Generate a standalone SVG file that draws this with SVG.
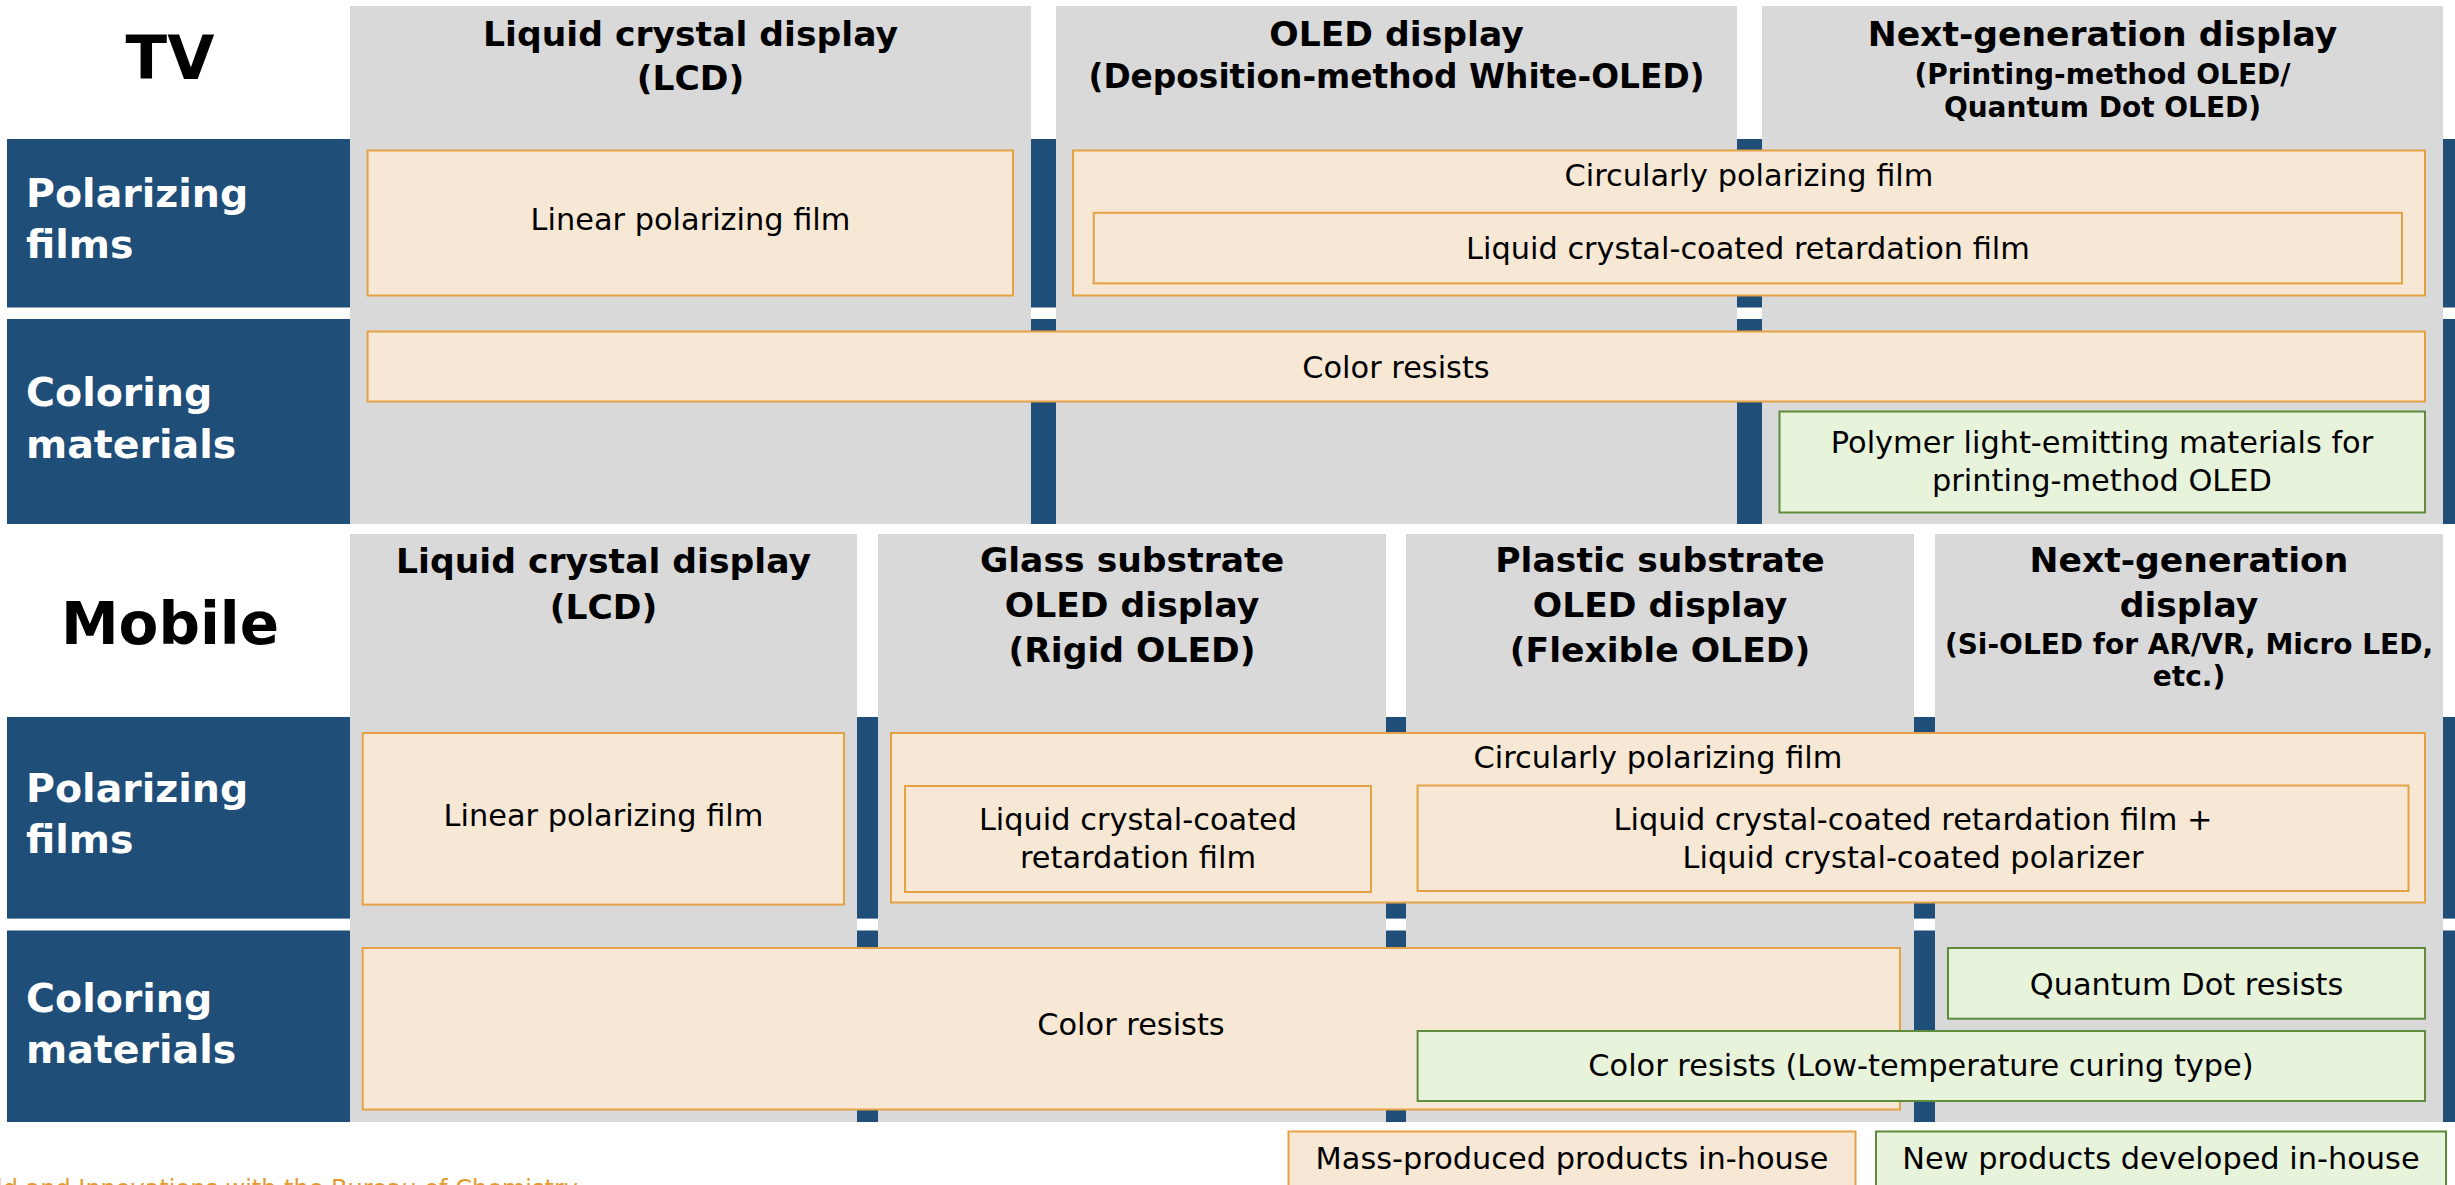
<svg xmlns="http://www.w3.org/2000/svg" width="2455" height="1185" viewBox="0 0 2455 1185">
<style>
.blue{fill:#1F4E79}
.gray{fill:#D9D9D9}
.or{fill:#F7E8D5;stroke:#E5A244;stroke-width:2}
.gr{fill:#E7F3DB;stroke:#5F8B3C;stroke-width:2}
.hd{font-family:"DejaVu Sans","Liberation Sans",sans-serif;font-weight:bold;font-size:34.6px;text-anchor:middle;fill:#000}
.sub{font-size:28px}
.lbl{font-family:"DejaVu Sans","Liberation Sans",sans-serif;font-weight:bold;font-size:39.5px;fill:#fff}
.big{font-family:"DejaVu Sans","Liberation Sans",sans-serif;font-weight:bold;font-size:61px;text-anchor:middle;fill:#000}
.tx{font-family:"DejaVu Sans","Liberation Sans",sans-serif;font-size:30.4px;text-anchor:middle;fill:#000}
.note{font-family:"DejaVu Sans","Liberation Sans",sans-serif;font-size:24px;fill:#E39B2E}
</style>
<rect width="2455" height="1185" fill="#fff"/>

<g id="tv-section">
  <rect class="blue" x="7" y="139" width="2448" height="168.5"/>
  <rect class="blue" x="7" y="319" width="2448" height="205"/>
  <rect class="gray" x="350" y="6" width="681" height="518"/>
  <rect class="gray" x="1056" y="6" width="681" height="518"/>
  <rect class="gray" x="1762" y="6" width="681" height="518"/>
</g>
<g id="mobile-section">
  <rect class="blue" x="7" y="717" width="2448" height="201.6"/>
  <rect class="blue" x="7" y="930.5" width="2448" height="191.5"/>
  <rect class="gray" x="350" y="534" width="507" height="588"/>
  <rect class="gray" x="878" y="534" width="508" height="588"/>
  <rect class="gray" x="1406" y="534" width="508" height="588"/>
  <rect class="gray" x="1935" y="534" width="508" height="588"/>
</g>

<g id="tv-title"><text class="big" x="170" y="79">TV</text></g>
<g id="tv-label-polarizing"><text class="lbl" x="26" y="206.5">Polarizing</text><text class="lbl" x="26" y="258">films</text></g>
<g id="tv-label-coloring"><text class="lbl" x="26" y="406">Coloring</text><text class="lbl" x="26" y="458">materials</text></g>

<g id="tv-head-lcd"><text class="hd" x="690.5" y="45.5">Liquid crystal display</text><text class="hd" x="690.5" y="90">(LCD)</text></g>
<g id="tv-head-oled"><text class="hd" x="1396.5" y="45.5">OLED display</text><text class="hd" x="1396.5" y="88" style="font-size:32.8px">(Deposition-method White-OLED)</text></g>
<g id="tv-head-next"><text class="hd" x="2102.5" y="45.5">Next-generation display</text><text class="hd sub" x="2102.5" y="84">(Printing-method OLED/</text><text class="hd sub" x="2102.5" y="117">Quantum Dot OLED)</text></g>

<g id="tv-linear"><rect class="or" x="367.6" y="150.5" width="645.4" height="145"/><text class="tx" x="690.5" y="230">Linear polarizing film</text></g>
<g id="tv-circular"><rect class="or" x="1073" y="150.5" width="1352" height="145"/><text class="tx" x="1749" y="186">Circularly polarizing film</text>
  <g id="tv-lc-retardation"><rect class="or" x="1093.7" y="212.8" width="1308.3" height="70.6"/><text class="tx" x="1748" y="259">Liquid crystal-coated retardation film</text></g>
</g>
<g id="tv-color-resists"><rect class="or" x="367.6" y="331.5" width="2057.4" height="70"/><text class="tx" x="1396" y="378">Color resists</text></g>
<g id="tv-polymer"><rect class="gr" x="1779.5" y="411.5" width="645.5" height="101"/><text class="tx" x="2102" y="453">Polymer light-emitting materials for</text><text class="tx" x="2102" y="491">printing-method OLED</text></g>

<g id="mobile-title"><text class="big" x="170" y="644" style="font-size:58px">Mobile</text></g>
<g id="mobile-label-polarizing"><text class="lbl" x="26" y="802">Polarizing</text><text class="lbl" x="26" y="853">films</text></g>
<g id="mobile-label-coloring"><text class="lbl" x="26" y="1012">Coloring</text><text class="lbl" x="26" y="1063">materials</text></g>

<g id="mobile-head-lcd"><text class="hd" x="603.5" y="572.5">Liquid crystal display</text><text class="hd" x="603.5" y="619">(LCD)</text></g>
<g id="mobile-head-rigid"><text class="hd" x="1132" y="572">Glass substrate</text><text class="hd" x="1132" y="617">OLED display</text><text class="hd" x="1132" y="662">(Rigid OLED)</text></g>
<g id="mobile-head-flex"><text class="hd" x="1660" y="572">Plastic substrate</text><text class="hd" x="1660" y="617">OLED display</text><text class="hd" x="1660" y="662">(Flexible OLED)</text></g>
<g id="mobile-head-next"><text class="hd" x="2189" y="572">Next-generation</text><text class="hd" x="2189" y="617">display</text><text class="hd sub" x="2189" y="654">(Si-OLED for AR/VR, Micro LED,</text><text class="hd sub" x="2189" y="686">etc.)</text></g>

<g id="mobile-linear"><rect class="or" x="362.7" y="733" width="481.3" height="171.6"/><text class="tx" x="603.5" y="826">Linear polarizing film</text></g>
<g id="mobile-circular"><rect class="or" x="891" y="733" width="1534" height="169.5"/><text class="tx" x="1658" y="768">Circularly polarizing film</text>
  <g id="mobile-lc-retardation"><rect class="or" x="905" y="786" width="466" height="106"/><text class="tx" x="1138" y="829.5">Liquid crystal-coated</text><text class="tx" x="1138" y="868">retardation film</text></g>
  <g id="mobile-lc-polarizer"><rect class="or" x="1417.6" y="785.5" width="990.9" height="105.5"/><text class="tx" x="1913" y="829.5">Liquid crystal-coated retardation film +</text><text class="tx" x="1913" y="868">Liquid crystal-coated polarizer</text></g>
</g>
<g id="mobile-color-resists"><rect class="or" x="362.7" y="948" width="1537.3" height="161.5"/><text class="tx" x="1131" y="1035">Color resists</text></g>
<g id="mobile-qd"><rect class="gr" x="1948" y="948" width="477" height="70.7"/><text class="tx" x="2186.5" y="995">Quantum Dot resists</text></g>
<g id="mobile-lowtemp"><rect class="gr" x="1417.6" y="1031" width="1007.4" height="70"/><text class="tx" x="1921" y="1075.5">Color resists (Low-temperature curing type)</text></g>

<g id="legend-mass"><rect class="or" x="1288.5" y="1131.5" width="567" height="70"/><text class="tx" x="1572" y="1169">Mass-produced products in-house</text></g>
<g id="legend-new"><rect class="gr" x="1876" y="1131.5" width="570" height="70"/><text class="tx" x="2161" y="1169">New products developed in-house</text></g>

<g id="footnote"><text class="note" x="-4" y="1197">ld and Innovations with the Bureau of Chemistry</text></g>
<g id="connectors"/>
</svg>
